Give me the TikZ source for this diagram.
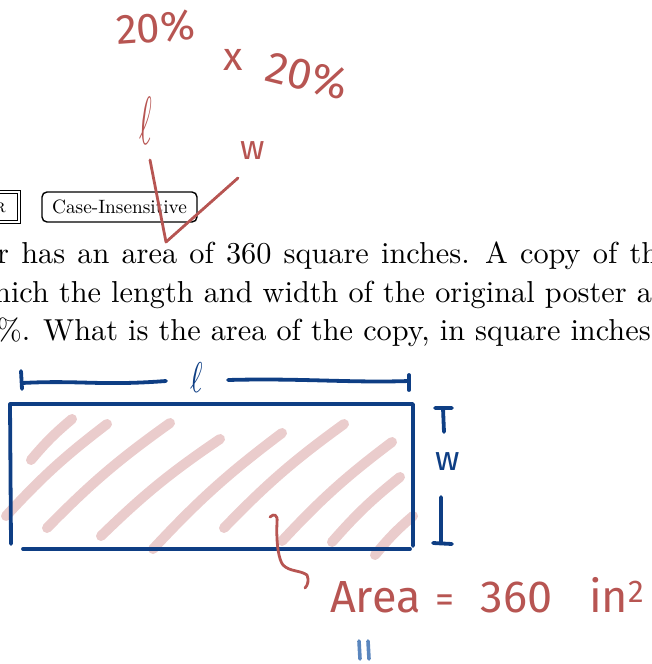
\documentclass[tikz,border=0pt]{standalone}
\usepackage{fontspec}
\newfontfamily\handfont{Fira Sans}
\newfontfamily\ellfont{latinmodern-math.otf}
\newfontfamily\bodyfont{lmroman10-regular.otf}
\newfontfamily\capsfont{lmromancaps10-regular.otf}
\usetikzlibrary{arrows.meta, positioning, calc}
\definecolor{inkred}{RGB}{183,85,82}
\definecolor{inkblue}{RGB}{14,62,132}
\definecolor{hatchpink}{RGB}{234,204,204}
\definecolor{paleblue}{RGB}{90,134,190}

\begin{document}
\begin{tikzpicture}[x=1pt, y=-1pt,
  redpen/.style={draw=inkred, line width=2.8pt, line cap=round, line join=round},
  bluepen/.style={draw=inkblue, line width=3.8pt, line cap=round, line join=round},
  palepen/.style={draw=paleblue, line width=3.6pt, line cap=round},
  hatch/.style={draw=hatchpink, line width=10pt, line cap=round},
  redword/.style={text=inkred, font=\handfont\fontsize{#1}{#1}\selectfont, inner sep=0pt},
  blueword/.style={text=inkblue, font=\handfont\fontsize{#1}{#1}\selectfont, inner sep=0pt},
  textline/.style={font=\bodyfont\fontsize{30.3}{38}\selectfont, anchor=base west, inner sep=0pt},
  tagbox/.style={draw, line width=1.4pt, rounded corners=5pt, minimum width=155pt,
    minimum height=30pt, inner sep=0pt, font=\bodyfont\fontsize{19.3}{19}\selectfont}
]
\useasboundingbox (0,0) rectangle (651,664);
\clip (0,0) rectangle (651,664);

% hatching of the poster
\foreach \ax/\ay/\bx/\by in {31/460/72/419, 6/516/107/424, 47/528/170/423,
    101/536/220/439, 153/549/282/433, 224/528/344/424, 282/541/392/442,
    332/542/400/477, 375/555/413/516}
  \draw[hatch] (\ax,\ay) to[bend left=5] (\bx,\by);

% poster
\draw[bluepen] (11,544) -- (10,404) -- (413,404) -- (413,546);
\draw[bluepen] (23,549) -- (410,549);

% length
\node[text=inkblue, inner sep=0pt, font=\ellfont\fontsize{43}{43}\selectfont] (len) at (197,378) {\scalebox{0.7}[1]{ℓ}};
\draw[bluepen] (21,371) -- (22,389);
\draw[bluepen] (22,383) .. controls (80,380) and (100,386) .. (166,381);
\draw[bluepen] (228,380) .. controls (300,378) and (350,383) .. (409,381);
\draw[bluepen] (409,375) -- (409,390);

% width
\node[blueword=34] (wid) at (448,462) {w};
\draw[bluepen] (435,408) -- (452,408) (443,408) -- (444,432);
\draw[bluepen] (441,497) -- (441,543) (433,543) -- (452,544);

% tags
\draw[line width=1pt] (-20,190) rectangle (20,223);
\draw[line width=0.8pt] (-20,193) rectangle (17,220);
\node[anchor=base east, inner sep=0pt, font=\capsfont\fontsize{19}{19}\selectfont] (strtag) at (6,212) {r};
\node[tagbox] (caseins) at (119.5,207) {Case-Insensitive};

% question
\node[textline] (line1) at (-3,263) {\spaceskip=12.2pt\xspaceskip=15.5pt
  \llap{poste}r has an area of 360 square inches. A copy of the};
\node[textline] (line2) at (-6,302) {\llap{w}hich the length and width of the original poster are};
\node[textline] (line3) at (43,340) {\llap{20\%.\hspace{13pt}}What is the area of the copy, in square inches?};

% notes
\node[redword=42, anchor=base west, rotate=4] (pctA) at (117,45) {20\%};
\node[redword=40] (times) at (233,60) {x};
\node[redword=44, anchor=base west, rotate=-14] (pctB) at (263,80) {20\%};
\node[text=inkred, inner sep=0pt, font=\ellfont\fontsize{68}{68}\selectfont] (ell) at (146,121) {\scalebox{0.45}[1]{ℓ}};
\node[redword=34] (wred) at (253,151) {w};
\coordinate (tickA) at (150,160);
\coordinate (tickB) at (166,242);
\coordinate (tickC) at (238,178);
\draw[redpen] (tickA) -- (tickB) -- (tickC);

\node[redword=45, anchor=base west] (area) at (330,612)
  {Area\hspace{15pt}{\fontsize{38}{38}\selectfont=}\hspace{26pt}360\hspace{37pt}in\textsuperscript{2}};
\draw[redpen] (270,517) .. controls (274,513) and (278,515) .. (277,522)
  .. controls (276,545) and (279,560) .. (283,565)
  .. controls (290,572) and (300,570) .. (307,575)
  .. controls (309,580) and (308,585) .. (305,588);
\draw[palepen] (359,641) -- (360,659) (368,641) -- (369,659);
\end{tikzpicture}
\end{document}
